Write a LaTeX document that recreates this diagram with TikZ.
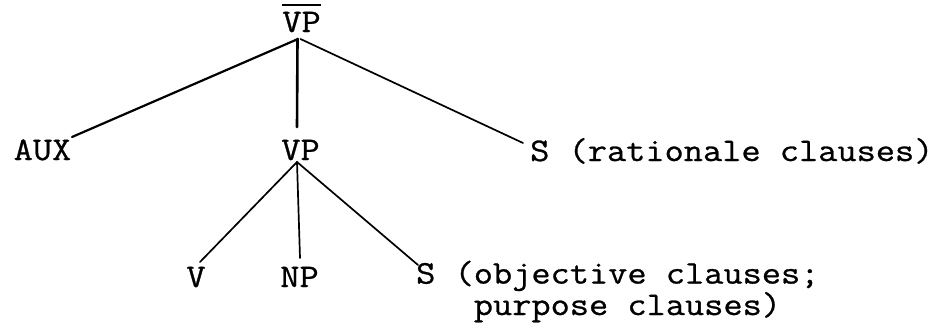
\documentclass[tikz,border=0pt]{standalone}
\usepackage{fontspec}
\setmainfont{Latin Modern Mono}[FakeStretch=1.13,FakeBold=0.8]
\newcommand{\myovl}[1]{\vbox{\hrule height 1.8pt\kern 6pt\hbox{#1}}}
\begin{document}
\begin{tikzpicture}[x=1pt,y=1pt,
  lab/.style={inner sep=0pt, font=\fontsize{33}{28}\selectfont},
  edge/.style={line width=1.7pt, line cap=round}]
\useasboundingbox (0,0) rectangle (936,333);
\node[lab, anchor=base] (top) at (301.5,301) {\myovl{VP}};
\node[lab, anchor=base] (aux) at (42.5,173) {AUX};
\node[lab, anchor=base] (vp) at (300.5,173) {VP};
\node[lab, anchor=base west] (s1) at (530,172) {S (rationale clauses)};
\node[lab, anchor=base] (v) at (196,46) {V};
\node[lab, anchor=base] (np) at (299.5,46) {NP};
\node[lab, anchor=base west, align=left] (s2) at (416,18) {S (objective clauses;\\\phantom{S (}purpose clauses)};
\draw[edge, line width=2.2pt] ([shift={(-3.5,-7)}]top.base) -- ([shift={(29.5,23)}]aux.base);
\draw[edge, line width=2.6pt] ([shift={(-4,-7)}]top.base) -- ([shift={(-3.5,33)}]vp.base);
\draw[edge] ([shift={(-1,-7)}]top.base) -- ([shift={(-7,18)}]s1.base west);
\draw[edge] ([shift={(-3.5,-2)}]vp.base) -- ([shift={(4,25)}]v.base);
\draw[edge] ([shift={(-3.5,-2)}]vp.base) -- ([shift={(0.5,29)}]np.base);
\draw[edge] ([shift={(-3.5,-2)}]vp.base) -- ([shift={(2,50)}]s2.base west);
\end{tikzpicture}
\end{document}
